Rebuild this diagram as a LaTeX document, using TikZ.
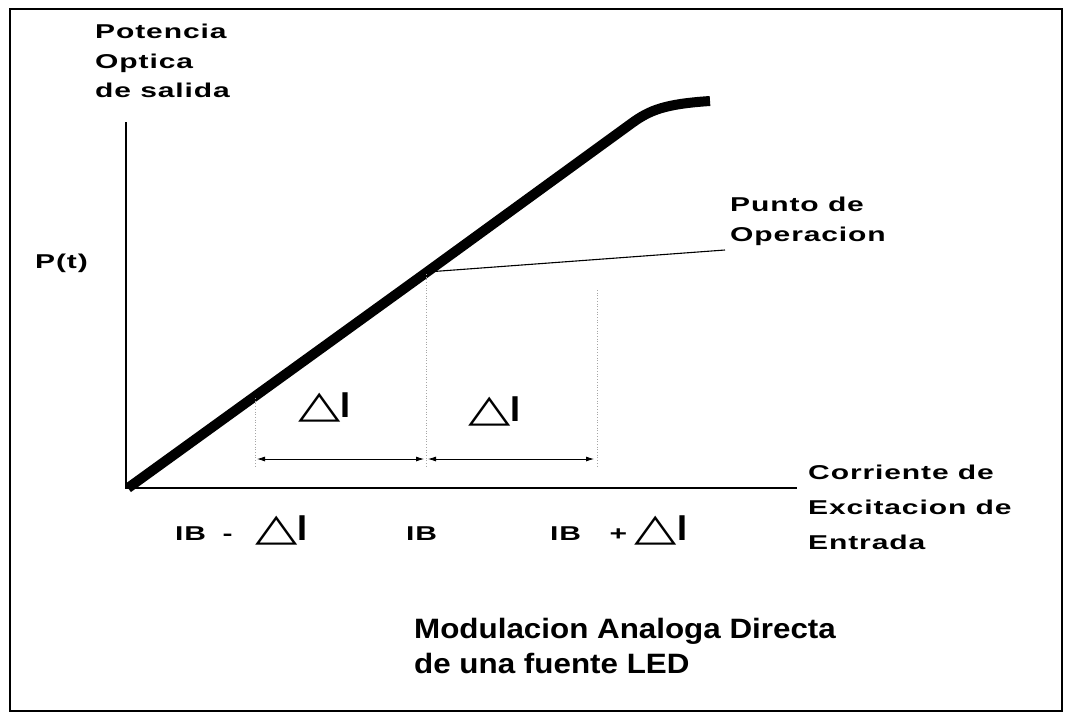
\documentclass[tikz,border=0pt]{standalone}
\usepackage{fontspec}
\usepackage{graphicx}
\setmainfont{Liberation Sans}
\newfontfamily\widefont{Liberation Sans}[LetterSpace=3]
\newfontfamily\capfont{Liberation Sans}
\newfontfamily\trifont{DejaVu Sans}
\newcommand{\stretchx}[1]{\scalebox{1.5}[1]{#1}}
\newcommand{\tri}{\scalebox{1.45}[1]{\trifont\fontsize{38}{38}\selectfont △}}
\newcommand{\deltaI}{\tri{\fontsize{36}{36}\selectfont\bfseries I}}
\usetikzlibrary{arrows.meta}
\begin{document}
\begin{tikzpicture}[x=1pt,y=-1pt,
  lbl/.style={inner sep=0pt, align=left},
  axisline/.style={line width=1.4pt},
  curveline/.style={line width=10pt},
  guide/.style={gray!70, dotted, line width=0.7pt},
  span/.style={line width=0.8pt, {Latex[length=8pt,width=5pt]}-{Latex[length=8pt,width=5pt]}}
]
\useasboundingbox (0,0) rectangle (1067,715);
% frame
\draw[line width=1.6pt] (10,9) rectangle (1062,711);
% axes
\coordinate (yt) at (126,122);
\coordinate (o) at (126,488);
\coordinate (xe) at (797,488);
\draw[axisline] (yt) -- (o) -- (xe);
% characteristic curve
\coordinate (c0) at (128,488);
\coordinate (op) at (427,272);
\coordinate (c1) at (632,123);
\coordinate (ce) at (710,101);
\draw[curveline] (c0) -- (op) -- (c1) .. controls (650,110) and (665,104) .. (ce);
% operating point leader
\coordinate (opl) at (725,250);
\draw[line width=1.1pt] (op) -- (opl);
% guides
\coordinate (g1t) at (255,398); \coordinate (g1b) at (255,466);
\coordinate (g2t) at (426,274); \coordinate (g2b) at (426,466);
\coordinate (g3t) at (597,290); \coordinate (g3b) at (597,466);
\draw[guide] (g1t) -- (g1b);
\draw[guide] (g2t) -- (g2b);
\draw[guide] (g3t) -- (g3b);
% spans
\coordinate (a1) at (257,459); \coordinate (a2) at (424,459);
\coordinate (a3) at (428,459); \coordinate (a4) at (594,459);
\draw[span] (a1) -- (a2);
\draw[span] (a3) -- (a4);
% labels
\node[lbl, anchor=north west] (ylab) at (95,18)
  {\stretchx{\widefont\bfseries\fontsize{20}{29.5}\selectfont\begin{tabular}{@{}l@{}}Potencia\\Optica\\de salida\end{tabular}}};
\node[lbl, anchor=base west] (pt) at (35,268) {\stretchx{\widefont\bfseries\fontsize{20}{24}\selectfont P(t)}};
\node[lbl, anchor=north west] (pop) at (730,190)
  {\stretchx{\widefont\bfseries\fontsize{20}{30}\selectfont\begin{tabular}{@{}l@{}}Punto de\\Operacion\end{tabular}}};
\node[lbl, anchor=north west] (xlab) at (808,455)
  {\stretchx{\widefont\bfseries\fontsize{20}{35}\selectfont\begin{tabular}{@{}l@{}}Corriente de\\Excitacion de\\Entrada\end{tabular}}};
\node[lbl, anchor=north west] (cap) at (414,614)
  {\scalebox{1.12}[1]{\capfont\bfseries\fontsize{28}{35}\selectfont\begin{tabular}{@{}l@{}}Modulacion Analoga Directa\\de una fuente LED\end{tabular}}};
% delta I labels
\node[lbl, anchor=base west] (d1) at (298,417) {\deltaI};
\node[lbl, anchor=base west] (d2) at (468,421) {\deltaI};
% tick labels
\node[lbl, anchor=base west] (ib1) at (175,540) {\stretchx{\widefont\bfseries\fontsize{20}{20}\selectfont IB\hspace{11pt}-\hspace{15pt}}\deltaI};
\node[lbl, anchor=base west] (ib2) at (406,540) {\stretchx{\widefont\bfseries\fontsize{20}{20}\selectfont IB}};
\node[lbl, anchor=base west] (ib3) at (550,540) {\stretchx{\widefont\bfseries\fontsize{20}{20}\selectfont IB\hspace{19pt}+\hspace{5pt}}\deltaI};
\end{tikzpicture}
\end{document}
